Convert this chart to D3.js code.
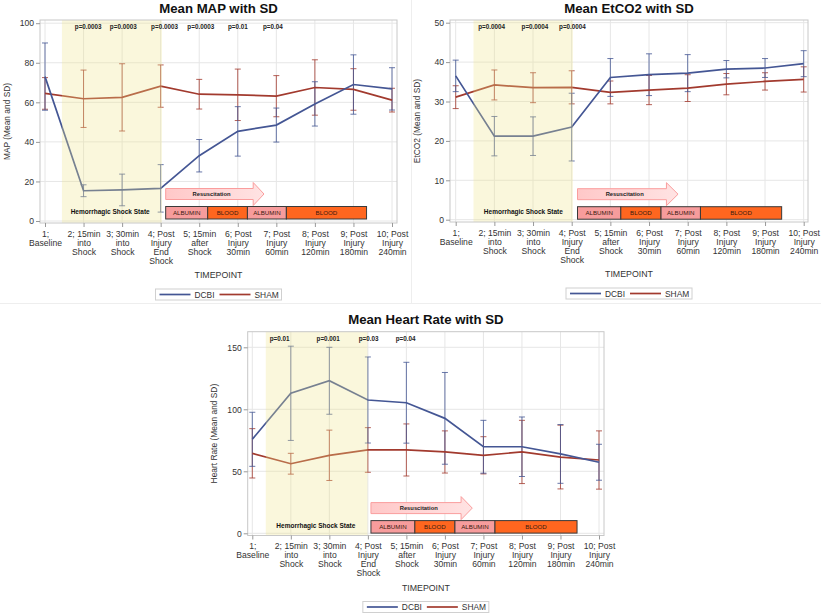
<!DOCTYPE html>
<html><head><meta charset="utf-8">
<script src="https://cdn.jsdelivr.net/npm/d3@7"></script>
<style>body{margin:0;background:#fff}svg{display:block}</style>
</head><body>
<svg id="c" width="821" height="615"></svg>
<script>
// ---------------- DATA ----------------
const timepoints = [1, 2, 3, 4, 5, 6, 7, 8, 9, 10];
const timepointLabels = [
  ["1;", "Baseline"],
  ["2; 15min", "into", "Shock"],
  ["3; 30min", "into", "Shock"],
  ["4; Post", "Injury", "End", "Shock"],
  ["5; 15min", "after", "Shock"],
  ["6; Post", "Injury", "30min"],
  ["7; Post", "Injury", "60min"],
  ["8; Post", "Injury", "120min"],
  ["9; Post", "Injury", "180min"],
  ["10; Post", "Injury", "240min"]
];
const seriesNames = ["DCBI", "SHAM"];
const xAxisTitle = "TIMEPOINT";
const phaseLabels = ["ALBUMIN", "BLOOD", "ALBUMIN", "BLOOD"];
const phaseKinds = ["albumin", "blood", "albumin", "blood"];
const resusLabel = "Resuscitation";
const shockLabel = "Hemorrhagic Shock State";

// MAP
const mapTicks = [0, 20, 40, 60, 80, 100];
const mapDcbiMean = [73, 15.3, 15.7, 16.5, 33, 45.3, 48.5, 59.2, 69, 66.8];
const mapDcbiSD   = [17, 3, 8, 12, 8.2, 12.5, 8.6, 11.2, 15, 10.7];
const mapShamMean = [64.5, 61.8, 62.5, 68.2, 64.1, 63.8, 63.1, 67.5, 66.5, 61.1];
const mapShamSD   = [8, 14.5, 17, 10.7, 7.5, 13, 10.4, 14, 10.5, 6];
const mapPValues  = ["p=0.0003", "p=0.0003", "p=0.0003", "p=0.0003", "p=0.01", "p=0.04"];

// EtCO2
const etTicks = [0, 10, 20, 30, 40, 50];
const etDcbiMean = [36.5, 21.2, 21.2, 23.5, 36.1, 36.8, 37.2, 38.2, 38.5, 39.6];
const etDcbiSD   = [4, 5, 4.9, 8.6, 4.8, 5.3, 4.7, 2.2, 2.4, 3.3];
const etShamMean = [31.1, 34.2, 33.5, 33.6, 32.3, 32.9, 33.4, 34.4, 35.1, 35.6];
const etShamSD   = [2.9, 3.8, 3.8, 4.2, 2.9, 3.7, 3.4, 2.7, 2.2, 3.2];
const etPValues  = ["p=0.0004", "p=0.0004", "p=0.0004"];

// Heart rate
const hrTicks = [0, 50, 100, 150];
const hrDcbiMean = [75.8, 112.9, 123, 107.5, 105.3, 92.7, 69.8, 69.8, 64, 57.3];
const hrDcbiSD   = [21.8, 38, 27, 34.7, 32.6, 37, 21.3, 24, 23.7, 14.5];
const hrShamMean = [64.5, 56.1, 62.9, 67.2, 67.2, 65.6, 62.9, 65.6, 61.5, 59.1];
const hrShamSD   = [19.9, 8.4, 20.3, 18, 21, 17, 15, 25.5, 25.7, 23.5];
const hrPValues  = ["p=0.01", "p=0.001", "p=0.03", "p=0.04"];

// ---------------- LAYOUT ----------------
const FONT = "'Liberation Sans', Arial, sans-serif";
const COLORS = {DCBI: "#445694", SHAM: "#a23a2e"};
const charts = [
  {title: "Mean MAP with SD", yLabel: "MAP (Mean and SD)", ticks: mapTicks,
   dMean: mapDcbiMean, dSD: mapDcbiSD, sMean: mapShamMean, sSD: mapShamSD, pv: mapPValues,
   frame: {x0: 40, x1: 397, y0: 20, y1: 223}, xr: [45, 392], yr: [221, 23.2],
   yLabelX: 8, shade: [1.44, 4.03], pPos: [2.12, 3.03, 4.1, 5.04, 6.0, 6.91],
   boxes: [4.13, 5.22, 6.25, 7.26, 9.34], arrow: [4.13, 6.4, 6.68], resusX: 5.32, shockX: 2.69, annDy: -1.5},
  {title: "Mean EtCO2 with SD", yLabel: "EtCO2 (Mean and SD)", ticks: etTicks,
   dMean: etDcbiMean, dSD: etDcbiSD, sMean: etShamMean, sSD: etShamSD, pv: etPValues,
   frame: {x0: 450, x1: 808, y0: 20, y1: 222}, xr: [455.7, 803.7], yr: [219.7, 22.7],
   yLabelX: 418, shade: [1.46, 4.03], pPos: [1.93, 3.05, 4.02],
   boxes: [4.15, 5.27, 6.31, 7.33, 9.43], arrow: [4.15, 6.45, 6.75], resusX: 5.37, shockX: 2.75, annDy: 0},
  {title: "Mean Heart Rate with SD", yLabel: "Heart Rate (Mean and SD)", ticks: hrTicks,
   dMean: hrDcbiMean, dSD: hrDcbiSD, sMean: hrShamMean, sSD: hrShamSD, pv: hrPValues,
   frame: {x0: 247.7, x1: 604, y0: 331.7, y1: 535.5}, xr: [252.3, 599], yr: [533.3, 347.3],
   yLabelX: 215, shade: [1.35, 3.99], pPos: [1.71, 2.97, 4.02, 4.98],
   boxes: [4.08, 5.22, 6.26, 7.30, 9.43], arrow: [4.08, 6.42, 6.71], resusX: 5.32, shockX: 2.65, annDy: 0.3}
];

const svg = d3.select("#c");
svg.append("rect").attr("width", 821).attr("height", 615).attr("fill", "#fff");
// faint panel borders
svg.append("line").attr("x1", 0).attr("x2", 821).attr("y1", 303.5).attr("y2", 303.5).attr("stroke", "#eeeeee");
svg.append("line").attr("x1", 411.5).attr("x2", 411.5).attr("y1", 0).attr("y2", 303.5).attr("stroke", "#eeeeee");

const defs = svg.append("defs");
const grad = defs.append("linearGradient").attr("id", "arrowGrad").attr("x1", 0).attr("x2", 1).attr("y1", 0).attr("y2", 0);
grad.append("stop").attr("offset", "0%").attr("stop-color", "#ffc8c8");
grad.append("stop").attr("offset", "100%").attr("stop-color", "#ffe3e3");

charts.forEach(c => {
  const g = svg.append("g");
  const f = c.frame;
  const x = d3.scaleLinear().domain([1, 10]).range(c.xr);
  const ymax = c.ticks[c.ticks.length - 1];
  const y = d3.scaleLinear().domain([0, ymax]).range(c.yr);

  // title
  g.append("text").attr("x", (f.x0 + f.x1) / 2).attr("y", f.y0 - 7.5)
    .attr("text-anchor", "middle").attr("font-family", FONT).attr("font-weight", "bold")
    .attr("font-size", 13.2).attr("fill", "#111").text(c.title);

  // grid
  g.selectAll(".gx").data(timepoints).join("line")
    .attr("x1", d => x(d)).attr("x2", d => x(d)).attr("y1", f.y0).attr("y2", f.y1)
    .attr("stroke", "#e6e6e6").attr("stroke-width", 1);
  g.selectAll(".gy").data(c.ticks).join("line")
    .attr("x1", f.x0).attr("x2", f.x1).attr("y1", d => y(d)).attr("y2", d => y(d))
    .attr("stroke", "#e6e6e6").attr("stroke-width", 1);

  // error bars & lines
  const series = [
    {name: "SHAM", mean: c.sMean, sd: c.sSD},
    {name: "DCBI", mean: c.dMean, sd: c.dSD}
  ];
  series.forEach(s => {
    const col = COLORS[s.name];
    const eb = g.append("g").attr("stroke", col).attr("stroke-width", 1).attr("stroke-opacity", 0.8);
    timepoints.forEach((t, i) => {
      const lo = y(s.mean[i] - s.sd[i]), hi = y(s.mean[i] + s.sd[i]), cx = x(t);
      eb.append("line").attr("x1", cx).attr("x2", cx).attr("y1", lo).attr("y2", hi);
      eb.append("line").attr("x1", cx - 3).attr("x2", cx + 3).attr("y1", lo).attr("y2", lo);
      eb.append("line").attr("x1", cx - 3).attr("x2", cx + 3).attr("y1", hi).attr("y2", hi);
    });
  });
  series.forEach(s => {
    g.append("path").datum(timepoints.map((t, i) => [t, s.mean[i]]))
      .attr("d", d3.line().x(d => x(d[0])).y(d => y(d[1])))
      .attr("fill", "none").attr("stroke", COLORS[s.name]).attr("stroke-width", 1.7);
  });

  // shock shading (semi-transparent khaki overlay)
  g.append("rect").attr("x", x(c.shade[0])).attr("y", f.y0)
    .attr("width", x(c.shade[1]) - x(c.shade[0])).attr("height", f.y1 - f.y0)
    .attr("fill", "#f0e68c").attr("fill-opacity", 0.3);

  // frame
  g.append("rect").attr("x", f.x0).attr("y", f.y0).attr("width", f.x1 - f.x0).attr("height", f.y1 - f.y0)
    .attr("fill", "none").attr("stroke", "#c8c8c8").attr("stroke-width", 1);

  // y axis
  const ya = g.append("g").attr("transform", `translate(${f.x0},0)`)
    .call(d3.axisLeft(y).tickValues(c.ticks).tickSize(4).tickPadding(2));
  ya.select(".domain").remove();
  ya.selectAll("line").attr("stroke", "#999");
  ya.selectAll("text").attr("font-family", FONT).attr("font-size", 8.6).attr("fill", "#333");

  // x axis
  const xa = g.append("g").attr("transform", `translate(0,${f.y1})`)
    .call(d3.axisBottom(x).tickValues(timepoints).tickSize(4).tickFormat(""));
  xa.select(".domain").remove();
  xa.selectAll("line").attr("stroke", "#999");
  xa.selectAll(".tick").each(function(d, i) {
    const t = d3.select(this).append("text").attr("fill", "#333").attr("font-family", FONT)
      .attr("font-size", 8.6).attr("text-anchor", "middle");
    timepointLabels[i].forEach((ln, k) => {
      t.append("tspan").attr("x", 0).attr("y", 13.5 + k * 9).text(ln);
    });
  });

  // axis titles
  g.append("text").attr("x", (f.x0 + f.x1) / 2).attr("y", f.y1 + 55)
    .attr("text-anchor", "middle").attr("font-family", FONT).attr("font-size", 8.8).attr("fill", "#333")
    .text(xAxisTitle);
  g.append("text").attr("transform", `translate(${c.yLabelX},${(f.y0 + f.y1) / 2}) rotate(-90)`)
    .attr("text-anchor", "middle").attr("dominant-baseline", "middle")
    .attr("font-family", FONT).attr("font-size", 8.4).attr("fill", "#333").text(c.yLabel);

  // p-values
  g.selectAll(".pv").data(c.pv).join("text")
    .attr("x", (d, i) => x(c.pPos[i])).attr("y", f.y0 + 9)
    .attr("text-anchor", "middle").attr("font-family", FONT).attr("font-weight", "bold")
    .attr("font-size", 6.3).attr("fill", "#222").text(d => d);

  // annotations
  const y0 = y(0) + c.annDy;
  const ax = c.arrow.map(v => x(v));
  const arrowPts = [[ax[0], y0 - 31], [ax[1], y0 - 31], [ax[1], y0 - 37], [ax[2], y0 - 25.5],
                    [ax[1], y0 - 14], [ax[1], y0 - 20], [ax[0], y0 - 20]];
  g.append("path").attr("d", d3.line()(arrowPts) + "Z")
    .attr("fill", "url(#arrowGrad)").attr("stroke", "#fa9d9d").attr("stroke-width", 1);
  g.append("text").attr("x", x(c.resusX)).attr("y", y0 - 23.3)
    .attr("text-anchor", "middle").attr("font-family", FONT).attr("font-weight", "bold")
    .attr("font-size", 5.8).attr("fill", "#222").text(resusLabel);

  phaseLabels.forEach((lab, i) => {
    const bx0 = x(c.boxes[i]), bx1 = x(c.boxes[i + 1]);
    g.append("rect").attr("x", bx0).attr("y", y0 - 13).attr("width", bx1 - bx0).attr("height", 12.5)
      .attr("fill", phaseKinds[i] === "albumin" ? "#f79c9c" : "#ff661f")
      .attr("stroke", "#3a3a3a").attr("stroke-width", 1);
    g.append("text").attr("x", (bx0 + bx1) / 2).attr("y", y0 - 4.3)
      .attr("text-anchor", "middle").attr("font-family", FONT).attr("font-size", 6.2)
      .attr("fill", "#3a1a10").text(lab);
  });

  g.append("text").attr("x", x(c.shockX)).attr("y", y0 - 6)
    .attr("text-anchor", "middle").attr("font-family", FONT).attr("font-weight", "bold")
    .attr("font-size", 7).attr("textLength", 79).attr("lengthAdjust", "spacingAndGlyphs")
    .attr("fill", "#111").text(shockLabel);

  // legend
  const lcx = (f.x0 + f.x1) / 2, lx = lcx - 63, ly = f.y1 + 66;
  const lg = g.append("g").attr("transform", `translate(${lx},${ly})`);
  lg.append("rect").attr("width", 126).attr("height", 11).attr("fill", "#fff").attr("stroke", "#d0d0d0");
  const items = [{n: seriesNames[0], x: 4}, {n: seriesNames[1], x: 64}];
  items.forEach(it => {
    lg.append("line").attr("x1", it.x).attr("x2", it.x + 31).attr("y1", 5.5).attr("y2", 5.5)
      .attr("stroke", COLORS[it.n]).attr("stroke-width", 1.7);
    lg.append("text").attr("x", it.x + 35).attr("y", 8.6).attr("font-family", FONT)
      .attr("font-size", 8.4).attr("fill", "#333").text(it.n);
  });
});
</script>
</body></html>
